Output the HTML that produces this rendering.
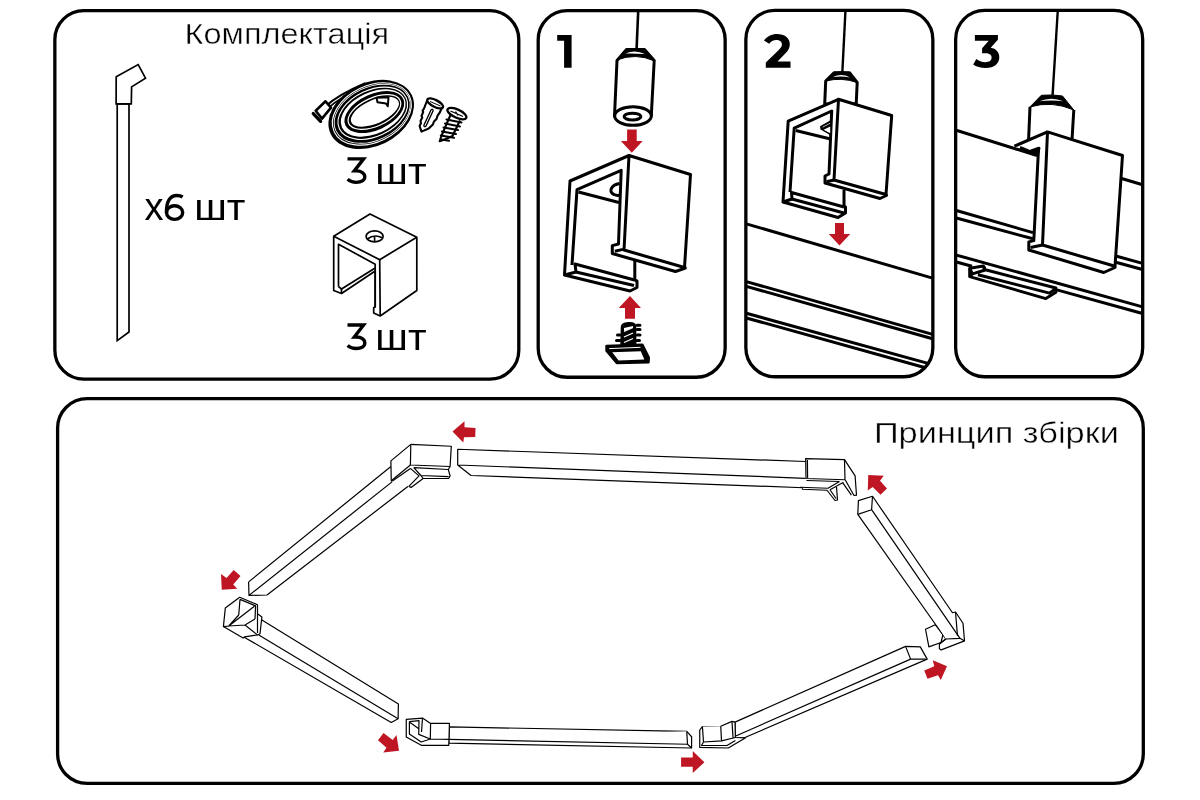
<!DOCTYPE html>
<html>
<head>
<meta charset="utf-8">
<style>
html,body{margin:0;padding:0;background:#fff;width:1200px;height:800px;overflow:hidden}
svg{display:block}
text{font-family:"Liberation Sans",sans-serif;fill:#000;stroke:#fff;stroke-width:0.45px;filter:grayscale(1)}
</style>
</head>
<body>
<svg width="1200" height="800" viewBox="0 0 1200 800">
<defs>
<clipPath id="c1"><rect x="538.2" y="10.6" width="187" height="366.7" rx="29"/></clipPath>
<clipPath id="c2"><rect x="745.85" y="10.4" width="187" height="366.4" rx="29"/></clipPath>
<clipPath id="c3"><rect x="955.65" y="10.4" width="187.1" height="366.4" rx="29"/></clipPath>
</defs>
<g fill="none" stroke="#000" stroke-width="3.3">
<rect x="54.85" y="10.6" width="463.95" height="368.55" rx="29"/>
<rect x="538.2" y="10.6" width="186.95" height="366.65" rx="29"/>
<rect x="745.85" y="10.4" width="187" height="366.35" rx="29"/>
<rect x="955.65" y="10.4" width="187.05" height="366.35" rx="29"/>
<rect x="57.6" y="398.65" width="1085.7" height="384.75" rx="29.5"/>
</g>

<!-- Panel A: rod -->
<g fill="#fff" stroke="#000" stroke-width="1.7" stroke-linejoin="miter">
<path d="M117.2,103.8 L129,103.8 L129,332 L117.2,340.6 Z"/>
<path d="M116.2,76.8 L138.2,64.6 L145.5,78.1 L131.6,86.9 L131.3,103.8 L116.1,103.8 Z"/>
</g>
<!-- Panel A: bracket -->
<g fill="#fff" stroke="#000" stroke-width="1.7" stroke-linejoin="round">
<path d="M370,214 L416.8,237.2 L416.8,290.5 L380.2,316 L373.7,313 L373.7,307.7 L375.2,307 L375.2,271 L341.5,293.5 L333.7,290.5 L333.7,236.2 Z"/>
<path d="M333.7,236.2 L379.7,259.7 L416.8,237.2" fill="none"/>
<path d="M379.7,259.7 L380.2,316" fill="none"/>
<path d="M338.5,286.7 L338.5,244.3 L375.2,264.2 L375.2,307" fill="none"/>
<path d="M338.5,286.7 L341.5,289 L375.2,268" fill="none"/>
<path d="M341.5,289 L341.5,293.5" fill="none"/>
<ellipse cx="374.6" cy="236.4" rx="8.5" ry="5.5"/>
<path d="M367.2,239 Q374.6,233.6 382.2,237.8 M374.6,236.3 L374.6,241.6" fill="none" stroke-width="1.6"/>
</g>

<!-- Panel A: cable coil -->
<path d="M325,108.5 C332,102 342,94.5 366,84.5" fill="none" stroke="#000" stroke-width="5"/>
<path d="M326,108 C333,101.5 343,94 366,84.5" fill="none" stroke="#fff" stroke-width="1.1"/>

<g fill="none">
<ellipse cx="371.20" cy="114.45" rx="45.00" ry="31.70" transform="rotate(-25.8 371.20 114.45)" fill="#000"/>
<ellipse cx="371.85" cy="113.97" rx="41.64" ry="28.20" transform="rotate(-25.5 371.85 113.97)" stroke="#fff" stroke-width="1.1"/>
<ellipse cx="372.14" cy="113.75" rx="40.10" ry="26.60" transform="rotate(-25.3 372.14 113.75)" stroke="#fff" stroke-width="0.9"/>
<ellipse cx="372.77" cy="113.28" rx="36.84" ry="23.20" transform="rotate(-25.0 372.77 113.28)" stroke="#fff" stroke-width="1.1"/>
<ellipse cx="373.23" cy="112.94" rx="34.44" ry="20.70" transform="rotate(-24.8 373.23 112.94)" fill="#fff"/>
<ellipse cx="374.33" cy="112.10" rx="31.87" ry="17.90" transform="rotate(-24.5 374.33 112.10)" fill="#000"/>
<ellipse cx="374.44" cy="112.04" rx="28.20" ry="14.20" transform="rotate(-24.2 374.44 112.04)" stroke="#fff" stroke-width="1.2"/>
<ellipse cx="374.90" cy="111.70" rx="25.80" ry="11.70" transform="rotate(-24.0 374.90 111.70)" fill="#fff"/>
</g>
<g stroke="#000" stroke-linejoin="round">
<path d="M315.7,110.7 L325.5,101.3 L331,107.7 L322,118.6 Z" fill="#fff" stroke-width="2.6"/>
<path d="M313.3,113.6 L320.6,121.3" stroke-width="3.4" fill="none" stroke-linecap="round"/>
<path d="M376.5,97.8 L388.5,97.3 L387.8,106.3 L386,103.5 L377.5,102.3 Z" fill="#fff" stroke-width="2"/>
</g>

<!-- Panel A: anchor & screw -->
<g stroke="#000" stroke-width="2.1" stroke-linejoin="round" fill="#fff">
<path d="M426.9,101 L424,108.6 L422.6,110.5 L423.2,112 L421.5,116 L422.3,117.5 L420.5,121 L421,123 L419.6,126 L421.5,131.6 L428.7,128.5 L432.9,124.4 L434,121.5 L436.5,119 L437.7,115.4 L439.5,113 L442.1,107.5 Z"/>
<path d="M432,110.5 L425,125.5" fill="none" stroke-width="3.6" stroke-linecap="round"/>
<path d="M432,110.5 L425,125.5" fill="none" stroke="#fff" stroke-width="1" stroke-linecap="round"/>
<ellipse cx="435.1" cy="103.4" rx="8.8" ry="3.4" transform="rotate(27 435.1 103.4)" stroke-width="2.3"/>
<path d="M430,101.5 L440.5,106" fill="none" stroke-width="1"/>
<path d="M450.5,115 L441.2,136.5 L439.7,141.2 L444.5,139.5 L452.5,136 L460,120.5" />
<g fill="none" stroke-width="2" stroke-linecap="round">
<path d="M446.5,119.5 L461.5,122.5 M445,123.5 L460,126.5 M443.5,127.5 L458,130 M442,131.5 L456,134 M440.8,135.5 L454,137.8 M441.5,139.5 L449,140.8"/>
</g>
<ellipse cx="456.9" cy="113.6" rx="10.3" ry="4.1" transform="rotate(25 456.9 113.6)" stroke-width="2.3"/>
<path d="M450.5,111 L463,116.5 M455.5,111.5 L458,115.5" fill="none" stroke-width="1.3"/>
</g>
<!-- Panel 1 -->
<g clip-path="url(#c1)" fill="none" stroke="#000" stroke-width="3" stroke-linejoin="round">
<path d="M638.2,11 L636.6,49" stroke-width="2.6"/>
<!-- cylinder -->
<path d="M626.5,49.5 L644.5,49.5 L654.2,60.5 L651.3,116 L614.5,116 L617,60.5 Z" fill="#fff"/>
<path d="M626,49 Q635,47.8 644.6,49.4 L654.2,60.8 Q635.5,52.6 616.8,60 Z" fill="#000" stroke-width="1"/>
<path d="M625.5,53.6 Q635,49.2 645,54 Q635,53.4 625.5,53.6 Z" fill="#fff" stroke="none"/>
<ellipse cx="633" cy="116" rx="18.3" ry="9.3" fill="#fff"/>
<ellipse cx="632.5" cy="116.6" rx="8.3" ry="3.4" stroke-width="3"/>
<!-- bracket -->
<path d="M629,155.5 L690.5,174.5 L684.5,267.5 L624,250 Z" fill="#fff"/>
<path d="M629,155.5 L570,181 L564.5,275 L630,291 L637,287.5 L637,281 L634.8,280.3"/>
<path d="M572,265 L577,189.6 L621.2,170.3 L618.5,244 L612.3,245.6 L612.3,253.5 L675.5,271.5 L685.3,268.1 L684.3,266"/>
<path d="M614.8,251.3 L623,249.4"/>
<path d="M578.5,192 L619,202.5"/>
<path d="M564.5,275 L576,272 L575,264 L634.5,280"/>
<path d="M576,272 L634,285.5"/>
<path d="M634.8,261 L634.8,281"/>
<path d="M619.5,183.5 C611,185 608,192 614,194.5 C616,195.5 618,195.5 619.3,195.3"/>
</g>
<g fill="#be1622">
<path d="M627.1,129.5 L636.7,129.5 L636.7,141.1 L642.7,141.1 L631.8,152.7 L620.9,141.1 L627.1,141.1 Z"/>
<path d="M625,318.8 L635,318.8 L635,308 L641,308 L630,296 L618.7,308 L625,308 Z"/>
</g>
<!-- spring screw -->
<g stroke="#000" stroke-linejoin="round">
<path d="M621,345 L621.5,327 C621.5,322 635,321 635.5,326 L635.7,345 Z" fill="#000" stroke-width="1.5"/>
<path d="M624,331.5 L633,327.5 M624,337 L633,333 M624,342.5 L633,338.5" stroke="#fff" stroke-width="1.3"/>
<path d="M624,328 L624,331 L633,327.5 L633,326 Z" fill="#fff" stroke="none"/>
<g stroke-width="3" stroke-linecap="round" fill="none">
<path d="M637,325.3 L640,325.3 M637,329.4 L640,329.4 M637,335 L640,335 M637,340.4 L639.5,340.4"/>
<path d="M617.5,335 L620,335 M616.5,340.4 L620,340.4"/>
</g>
<path d="M606.5,345.9 L642.3,344.6 L648.8,357.6 L648.5,362.4 L616.8,363.1 L606.5,350.7 Z" fill="#000" stroke-width="2.4"/>
<path d="M609.2,348.6 L640.5,347.3" fill="none" stroke="#fff" stroke-width="1"/>
<path d="M612.2,352.3 L640.8,351.2 L644.3,359.4 L618.6,360.4 Z" fill="#fff" stroke="none"/>
</g>

<!-- Panel 2 -->
<g clip-path="url(#c2)" fill="none" stroke="#000" stroke-width="3" stroke-linejoin="round">
<path d="M845.5,10 L842.3,73" stroke-width="2.4"/>
<path d="M834,72.7 L849.5,72.7 L857.2,82.5 L856.2,104 L824.7,104 L825.7,81 Z" fill="#fff"/>
<path d="M834,72.2 Q841.5,71.2 849.5,72.4 L857.2,82.5 Q841.5,77 825.7,81 Z" fill="#000" stroke-width="1"/>
<path d="M832.8,77.3 Q841.5,72.8 850,77.6 Q841.5,75.4 832.8,77.3 Z" fill="#fff" stroke="none"/>
<!-- rail lines -->
<path d="M740,222 L940,280.3"/>
<path d="M740,279.8 L940,336.5"/>
<path d="M740,284.6 L940,340.8"/>
<path d="M740,311.5 L940,366.7"/>
<path d="M740,316.2 L940,371.8"/>
<!-- bracket -->
<path d="M838.5,99.3 L788.2,121.2 L783,202 L838,217.5 L845.5,213 L845.5,207 L844,206.5" fill="#fff"/>
<path d="M838.5,99.3 L891.7,115.5 L886,194.5 L834,180 Z" fill="#fff"/>
<path d="M790,192 L794.2,128.2 L831.7,111 L829,174 L825,176 L825,183 L880,198.5 L886.5,195.5 L886,194.5"/>
<path d="M826.5,181.8 L834,180"/>
<path d="M795.7,130.5 L829.5,138.7"/>
<path d="M783,202 L792,199 L791.5,192.5 L844,207"/>
<path d="M792,199 L844,213"/>
<path d="M844,190 L844,206"/>
<path d="M831,120 L820,126.2 L820.5,129.5 L830,135 Z" fill="#000" stroke="none"/>
<path d="M823.6,129.8 L830.2,126.6 L830.2,133.2 Z" fill="#fff" stroke="none"/>
<path d="M822.6,127.2 L830.2,123.2" stroke="#fff" stroke-width="0.7"/>
</g>
<path fill="#be1622" d="M835,223 L844,223 L844,234 L850.2,234 L839.5,245.5 L828.8,234 L835,234 Z"/>

<!-- Panel 3 -->
<g clip-path="url(#c3)" fill="none" stroke="#000" stroke-width="3" stroke-linejoin="round">
<path d="M1057.8,10 L1052.6,95" stroke-width="2.4"/>
<path d="M1041.3,95.6 L1062.5,96.3 L1073.8,110 L1071.9,138 L1028.5,139 L1030,106.9 Z" fill="#fff" stroke="none"/>
<path d="M1030,106.9 L1028.6,139.6 M1073.8,110 L1072,140"/>
<path d="M1041.3,95.3 Q1052,94.3 1062.5,96 L1073.8,110 Q1052,100.4 1030,106.9 Z" fill="#000" stroke-width="1"/>
<path d="M1039.5,101.3 Q1051.5,96.3 1063.3,101.3 Q1051.5,99.6 1039.5,101.3 Z" fill="#fff" stroke="none"/>
<!-- clip under rail -->
<path d="M969.7,268.3 L983.4,266 L984.4,269.5 L1055.9,288 L1055.9,292.2 L1045.8,298.6 L969.7,276.6 Z" fill="#fff"/>
<path d="M969.7,276.6 L972.4,273.9 L969.7,268.3 M972.4,273.9 L984.4,270.2 L984.4,266.5 M977.9,274.8 L1049.5,293.1 L1055.9,288.5"/>
<!-- rail -->
<path d="M950,128.3 L1037,155.5"/>
<path d="M1120,178 L1150,187"/>
<path d="M950,208.7 L1033,232.6"/>
<path d="M950,216.3 L1033,238.8"/>
<path d="M1114,255.5 L1150,265.5"/>
<path d="M1113,261.5 L1150,271.5"/>
<path d="M950,253.3 L1150,308.9"/>
<path d="M950,260.3 L972,266.3"/>
<path d="M1056,289.6 L1150,315.6"/>
<!-- bracket -->
<path d="M1047.5,131.9 L1122.5,155.5 L1115,266.3 L1042.5,245 Z" fill="#fff"/>
<path d="M1014.4,146.2 L1047.5,131.9"/>
<path d="M1020,147.5 L1036.5,154.5"/>
<path d="M1031.2,151 L1039,148.2 L1037.5,154 Z" fill="#000"/>
<path d="M1038.5,149 L1033.8,240.6 L1028.8,241.9 L1028.8,250 L1103.8,272.5 L1115,267.5 L1115,266.3"/>
<path d="M1030.5,247.5 L1042.5,245"/>
</g>

<!-- Bottom panel: rails -->
<g fill="#fff" stroke="#000" stroke-width="1.2" stroke-linejoin="round">
<!-- upper-left rail -->
<path d="M248.6,581.9 L390.9,466.5 L408.5,486 L267,595 L249,595.4 Z" stroke="none"/>
<path d="M248.6,581.9 L390.9,466.5 M249,595.4 L392,481.9 M267,595 L408.5,486 M248.6,581.9 L249,595.4 L267,595" fill="none"/>
<!-- top-left connector -->
<path d="M410.8,444.4 L451.3,446.25 L450.1,466.5 L448.3,469.5 L450.1,475.9 L448.6,478.5 L423.1,478.5 L411.1,487.5 L408.9,486.4 L392.4,481.1 L391.25,480.8 L390.9,460.9 Z" stroke="none"/>
<path d="M410.8,444.4 L451.3,446.25 L450.1,466.5 L448.3,469.5 L450.1,475.9 L448.6,478.5 L423.1,478.5 L411.1,487.5 L408.9,486.4 M392.4,481.1 L391.25,480.8 L390.9,460.9 L410.8,444.4" fill="none"/>
<path d="M410.8,444.4 L410.4,465 L450.1,466.5"/>
<path d="M410.4,465 L391.25,480.8"/>
<path d="M410.4,468.4 L392.4,481.1 M410.4,468.4 L419,475.9 L408.9,486.4 M413.75,467.6 L448.3,469.5 M413.75,467.6 L420.9,475.5 L448.6,476.6 M420.9,475.5 L423.1,478.5"/>
<!-- top rail -->
<path d="M457.7,449.25 L805.3,461.5 L805.3,478.3 L803.5,487.75 L471,475.5 L457.7,465 Z" stroke="none"/>
<path d="M805.3,461.5 L457.7,449.25 L457.7,465 L471,475.5 L803.5,487.75 M457.7,465 L805.3,478.3" fill="none"/>
<!-- top-right connector -->
<path d="M805.65,458.6 L844.5,459.6 L855.1,475.8 L856.5,495.2 L854,495.5 L843.5,482.25 L836.5,487 L837.5,500 L835,500.5 L827,490.25 L802.5,489.25 L802.5,488.25 L806,478.5 Z" stroke="none"/>
<path d="M805.65,458.6 L844.5,459.6 L845,479.75 L806,478.5 Z M807.4,460 L807.6,478" fill="none"/>
<path d="M844.5,459.6 L855.1,475.8 L856.5,495.2 L854,495.5 L845.3,480 M842.6,482.6 L851.4,495.2 M806.5,480.5 L839.5,481.5 M800,487.25 L828,488.25 L839.5,481.5 M802.5,488.25 L802.5,489.25 L827,490.25 L835,500.5 L837.5,500 L836.5,487 M830,489.75 L843.5,482.25 M830,489.75 L836,498.5" fill="none"/>
<!-- bottom-right small connector -->
<path d="M925.5,629.25 L935.25,624.75 L943,634.5 L941,642.5 L928.9,646.9 Z"/>
<!-- right diagonal rail -->
<path d="M858.4,500.6 L872.5,496.25 L952.5,612.75 L955.5,612 L963,623.25 L964.5,640.9 L941.25,649.9 L939.4,648.75 L939.4,643.9 L945.8,639 L857.8,514.4 Z"/>
<path d="M872.5,496.25 L871.6,509.7 L857.8,514.4 M871.6,509.7 L960,638.3 L945.8,639"/>
<path d="M955.5,612 L957.5,636 M960,638.3 L964.5,640.9 M939.4,643.9 L945.8,639"/>
<!-- lower-right rail -->
<path d="M905.6,646.4 L920.3,646.9 L927.2,659.1 L745.5,737.3 L735.4,737.5 L735,722.1 Z"/>
<path d="M905.6,646.4 L910.6,659.1 L927.2,659.1 M910.6,659.1 L735.75,736"/>
<!-- lower-right rail left connector -->
<path d="M702.4,726.6 L720.75,726.25 L732,721.4 L735,722.1 L735.4,737.5 L745.7,737.8 L728.25,748 L699.75,747.3 L699.75,730 Z"/>
<path d="M720.75,726.25 L721.5,740.9 L703.5,742 L702.4,726.6 M721.5,740.9 L735.4,737.5 M732,721.4 L733,737.5 M703.5,742 L701.5,745.5 L727,745.5 L735.4,740.5"/>
<!-- bottom rail -->
<path d="M449.4,726.9 L686.75,731.35 L691.6,736.75 L691.6,748 L448.75,743.2 Z"/>
<path d="M449,739.4 L687.5,744.25 L686.75,731.35 M687.5,744.25 L691.6,748"/>
<!-- bottom rail left connector -->
<path d="M406.25,719.4 L422.5,718.1 L430.6,723.4 L449.4,723.4 L449,739.4 L448.75,745.3 L421.25,745.3 L406.25,736.9 Z"/>
<path d="M430.6,723.4 L430.3,739 L449,739.4 M409.4,721.6 L419,720.6 L418.75,734.4 L430.3,739 M409.4,721.6 L409.4,734 L421.25,742 L430.3,739 M409.4,722 L418.75,728.75 M422.5,718.1 L421.5,732"/>
<!-- left lower rail -->
<path d="M261.9,620 L398.4,704.1 L398.1,718.75 L391.25,722.5 L243.75,636.9 Z"/>
<path d="M258.75,635 L398.1,718.75"/>
<!-- left connector -->
<path d="M239.7,597.2 L257.5,604.7 L257.5,613.75 L261.9,616.9 L260,633.75 L257.5,635 L244.4,636.9 L243.1,638.1 L223.4,626.6 L225.3,608.1 Z"/>
<path d="M240,599.4 L255.6,605.9 L255,619 M240,599.4 L238.75,615 M254.4,606.25 L228.75,626 L238.75,615 M228.75,626 L245,625 L255,619 M245,625 L257.5,635 M223.4,626.6 L228.75,626 M257.5,613.75 L257.5,633"/>
</g>
<!-- Bottom panel: arrows -->
<g fill="#be1622">
<path d="M452.5,431.5 L464.5,421.25 L464.5,427.25 L475.5,428 L475.25,437 L464,437.25 L463.25,442.5 Z"/>
<path d="M868.25,475 L883.75,475.75 L880,480.75 L887,488.5 L880.5,494.75 L872.75,487 L867.75,490.5 Z"/>
<path d="M924.25,670.5 L934.25,666.25 L932.75,660.25 L947,666.25 L940.75,680 L938,675.25 L927.5,678.75 Z"/>
<path d="M681.1,757.4 L692.75,757.4 L692.75,751 L704.4,762.3 L692.75,773.1 L692.75,766.75 L681.1,766.75 Z"/>
<path d="M383.5,733 L392.75,740 L396.5,735 L399,750.75 L383.25,752.5 L386.5,747.75 L378,740.25 Z"/>
<path d="M221,574 L226.5,578 L233.75,570 L240.5,576 L233.25,584.5 L237.25,588.75 L221.75,589.75 Z"/>
</g>
<!-- texts -->
<text x="184.6" y="44.4" font-size="29.5" textLength="204.5" lengthAdjust="spacingAndGlyphs">Комплектація</text>
<text x="873.9" y="443" font-size="29.5" textLength="245" lengthAdjust="spacingAndGlyphs">Принцип збірки</text>
<text x="144.4" y="220.3" font-size="38" style="stroke:none">x</text>
<g fill="none" stroke="#000" stroke-width="3.4"><ellipse cx="174.6" cy="212.6" rx="8.1" ry="6.8"/><path d="M166.5,213 C166.2,201.5 170,195.5 176.7,195.5 C179.3,195.5 181.3,196.1 182.6,197"/></g>
<text x="194.2" y="220.3" font-size="37.5" style="stroke:none" textLength="51.2" lengthAdjust="spacingAndGlyphs">шт</text>
<path d="M347.5,158.90 L363.6,158.90 L354.3,170.85 L356.5,170.85 C361.3,170.85 364.8,173.45 364.8,176.85 C364.8,180.15 361.4,182.35 356.3,182.35 C352.6,182.35 349.6,181.15 347.6,179.35" fill="none" stroke="#000" stroke-width="3.4"/>
<text x="375.3" y="183.8" font-size="37.5" style="stroke:none" textLength="51.2" lengthAdjust="spacingAndGlyphs">шт</text>
<path d="M347.5,325.05 L363.6,325.05 L354.3,337.00 L356.5,337.00 C361.3,337.00 364.8,339.60 364.8,343.00 C364.8,346.30 361.4,348.50 356.3,348.50 C352.6,348.50 349.6,347.30 347.6,345.50" fill="none" stroke="#000" stroke-width="3.4"/>
<text x="375.3" y="349.8" font-size="37.5" style="stroke:none" textLength="51.2" lengthAdjust="spacingAndGlyphs">шт</text>
<g fill="#000">
<path d="M557.2,35 L571.6,35 L571.6,67.7 L564.1,67.7 L564.1,40.8 L557.2,40.8 Z"/>
<path d="M764,40.4 C767,36.5 771.5,34 777,34 C784.5,34 789.8,38 789.8,44 C789.8,47.8 788.3,50.5 785.5,53.3 L777.5,61.4 L790.5,61.4 L790.5,67.7 L765.8,67.7 L765.8,62.6 L778.5,50.2 C781,47.8 781.9,46.2 781.9,44.5 C781.9,41.7 779.8,40 776.3,40 C773.2,40 770.8,41.3 769.2,43.8 Z"/>
<path d="M974.9,34.9 L997.9,34.9 L997.9,39.8 L990.7,47.8 C996,48.6 999.3,52.3 999.3,57.3 C999.3,63.4 994.5,68 985.5,68 C980.8,68 976,66.6 973.2,64.5 L976.3,59 C978.6,60.9 981.9,62.2 985.3,62.2 C989.4,62.2 991.6,60.3 991.6,57.5 C991.6,54.9 989.6,53.3 985.3,53.3 L982.1,53.3 L982.1,48.3 L988.7,40.8 L974.9,40.8 Z"/>
</g>


</svg>
</body>
</html>
